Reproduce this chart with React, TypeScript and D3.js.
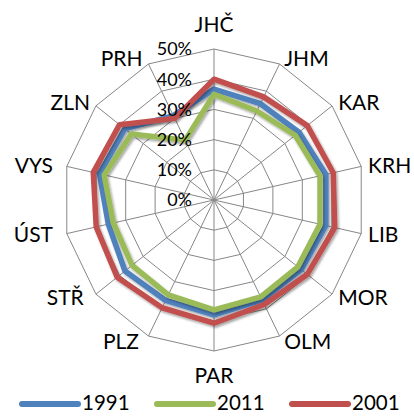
import React from "react";
import * as d3 from "d3";

const categories = ["JHČ", "JHM", "KAR", "KRH", "LIB", "MOR", "OLM", "PAR", "PLZ", "STŘ", "ÚST", "VYS", "ZLN", "PRH"];
const values1991 = [0.367, 0.354, 0.36, 0.38, 0.38, 0.37, 0.368, 0.38, 0.369, 0.377, 0.359, 0.389, 0.378, 0.31];
const values2011 = [0.35, 0.327, 0.344, 0.36, 0.36, 0.355, 0.356, 0.364, 0.349, 0.347, 0.342, 0.373, 0.35, 0.22];
const values2001 = [0.40, 0.379, 0.395, 0.405, 0.41, 0.395, 0.384, 0.408, 0.396, 0.41, 0.40, 0.41, 0.40, 0.30];
const tickValues = [0, 0.1, 0.2, 0.3, 0.4, 0.5];
const tickLabels = ["0%", "10%", "20%", "30%", "40%", "50%"];
const seriesNames = ["1991", "2011", "2001"];
const seriesColors = ["#4F81BD", "#9BBB59", "#C0504D"];

const W = 414;
const H = 416;
const CX = 214;
const CY = 200;
const R = 151;
const FONT = "Lato, 'Open Sans', sans-serif";

export default function App() {
  const n = categories.length;
  const angle = (i: number) => (i * 2 * Math.PI) / n;
  const r = d3.scaleLinear().domain([0, 0.5]).range([0, R]);
  const radial = d3
    .lineRadial<number>()
    .angle((_, i) => angle(i))
    .radius((d) => r(d))
    .curve(d3.curveLinearClosed);

  const series = [values1991, values2011, values2001];
  const gridColor = "#878787";

  return (
    <svg
      width={W}
      height={H}
      style={{ position: "absolute", left: 0, top: 0, background: "#fff" }}
      fontFamily={FONT}
    >
      <defs>
        <filter id="sh" x="-20%" y="-20%" width="140%" height="140%">
          <feDropShadow dx="1.5" dy="2" stdDeviation="1.2" floodColor="#000" floodOpacity="0.35" />
        </filter>
      </defs>
      <g transform={`translate(${CX},${CY})`}>
        {tickValues.slice(1).map((t) => (
          <path key={t} d={radial(categories.map(() => t)) || ""} fill="none" stroke={gridColor} strokeWidth={1} />
        ))}
        {categories.map((c, i) => {
          const a = angle(i);
          return (
            <line
              key={c}
              x1={0}
              y1={0}
              x2={r(0.5) * Math.sin(a)}
              y2={-r(0.5) * Math.cos(a)}
              stroke={gridColor}
              strokeWidth={1}
            />
          );
        })}
        {series.map((s, k) => (
          <path
            key={seriesNames[k]}
            d={radial(s) || ""}
            fill="none"
            stroke={seriesColors[k]}
            strokeWidth={5.5}
            strokeLinejoin="round"
            filter="url(#sh)"
          />
        ))}
        {tickValues.map((t, i) => (
          <text key={t} x={-22} y={-r(t)} dy="0.36em" textAnchor="end" fontSize={18} fill="#000">
            {tickLabels[i]}
          </text>
        ))}
        {categories.map((c, i) => {
          const a = angle(i);
          const s = Math.sin(a);
          const co = Math.cos(a);
          const vx = r(0.5) * s;
          const vy = -r(0.5) * co;
          let x = vx;
          let y = vy - co * 6;
          let anchor: "start" | "end" | "middle" = "middle";
          if (Math.abs(s) < 0.01) {
            y = co > 0 ? -r(0.5) - 25 : r(0.5) + 24;
          } else if (s > 0) {
            anchor = "start";
            x = vx + 3 + 4 * Math.abs(s);
          } else {
            anchor = "end";
            x = vx - (co > 0.3 ? 6 : 6 + 8 * Math.abs(s));
          }
          return (
            <text key={c} x={x} y={y} dy="0.36em" textAnchor={anchor} fontSize={21} fill="#000">
              {c}
            </text>
          );
        })}
      </g>
      <g transform={`translate(22,404)`}>
        {seriesNames.map((name, k) => (
          <g key={name} transform={`translate(${k * 135},0)`}>
            <line x1={0} y1={0} x2={56} y2={0} stroke={seriesColors[k]} strokeWidth={6} strokeLinecap="round" />
            <text x={60} y={-1} dy="0.36em" fontSize={20.5} fill="#000">
              {name}
            </text>
          </g>
        ))}
      </g>
    </svg>
  );
}
